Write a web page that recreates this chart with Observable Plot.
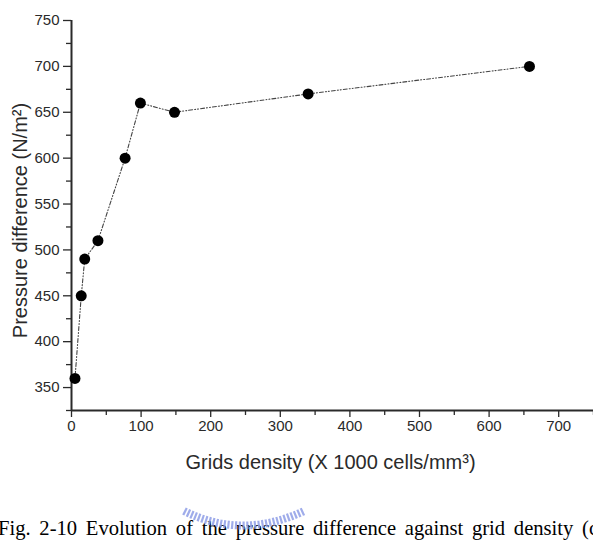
<!DOCTYPE html>
<html>
<head>
<meta charset="utf-8">
<script src="https://cdn.jsdelivr.net/npm/d3@7"></script>
<script src="https://cdn.jsdelivr.net/npm/@observablehq/plot@0.6"></script>
<style>
  html, body { margin: 0; padding: 0; background: #fff; width: 593px; height: 549px; overflow: hidden; }
  #wrap { position: relative; width: 593px; height: 549px; }
  #caption {
    position: absolute; left: -2px; top: 518px; white-space: nowrap;
    font-family: "Liberation Serif", "Times New Roman", serif; font-size: 20.6px; color: #000;
    word-spacing: 3.6px; line-height: 1;
  }
  #logo { position: absolute; left: 180px; top: 506px; }
</style>
</head>
<body>
<div id="wrap">
  <div id="chart"></div>
  <div id="caption">Fig. 2-10 Evolution of the pressure difference against grid density (c</div>
  <svg id="logo" width="130" height="24" viewBox="0 0 130 24">
    <path d="M4,5 Q62,34 124,5" fill="none" stroke="#8e9de6" stroke-opacity="0.85" stroke-width="8" stroke-dasharray="2.2,1.6"/>
  </svg>
</div>
<script>
// Grid density (thousand cells per mm^3) and resulting pressure difference (N/m^2)
const gridDensity = [5, 14, 19, 38, 77, 99, 148, 340, 658];
const pressureDiff = [360, 450, 490, 510, 600, 660, 650, 670, 700];

const xMajor = [0, 100, 200, 300, 400, 500, 600, 700];
const xMinor = [50, 150, 250, 350, 450, 550, 650, 750];
const yMajor = [350, 400, 450, 500, 550, 600, 650, 700, 750];
const yMinor = [325, 375, 425, 475, 525, 575, 625, 675, 725];

const xTitle = "Grids density (X 1000 cells/mm³)";
const yTitle = "Pressure difference (N/m²)";

const data = gridDensity.map((x, i) => ({x, y: pressureDiff[i]}));
const font = "Liberation Sans, Arial, sans-serif";
const ink = "#2a2a2a";

const chart = Plot.plot({
  width: 593,
  height: 480,
  marginLeft: 71,
  marginRight: 0,
  marginTop: 20,
  marginBottom: 70,
  style: {fontFamily: font, fontSize: "15px", color: ink, background: "white"},
  x: {domain: [0, 750]},
  y: {domain: [325, 750]},
  marks: [
    Plot.axisX({ticks: xMajor, tickSize: 7, tickPadding: 3, label: null, fontSize: 15, strokeWidth: 1.3, tickFormat: d => d}),
    Plot.axisX({ticks: xMinor, tickSize: 5, text: null, label: null, strokeWidth: 1.3}),
    Plot.axisY({ticks: yMajor, tickSize: 8, tickPadding: 4, label: null, fontSize: 15, strokeWidth: 1.3, tickFormat: d => d}),
    Plot.axisY({ticks: yMinor, tickSize: 5, text: null, label: null, strokeWidth: 1.3}),
    Plot.ruleX([0], {stroke: ink, strokeWidth: 2}),
    Plot.ruleY([325], {stroke: ink, strokeWidth: 2}),
    Plot.line(data, {x: "x", y: "y", stroke: "#444", strokeWidth: 1.1, strokeDasharray: "4,2,1,2,1,2"}),
    Plot.dot(data, {x: "x", y: "y", r: 5.5, fill: "black", stroke: "none"}),
    Plot.text([xTitle], {frameAnchor: "bottom", lineAnchor: "middle", dy: 52, dx: -2, fontSize: 20, fill: ink}),
    Plot.text([yTitle], {frameAnchor: "left", textAnchor: "middle", lineAnchor: "middle", rotate: -90, dx: -51, dy: 5, fontSize: 20, fill: ink})
  ]
});
document.getElementById("chart").appendChild(chart);
</script>
</body>
</html>
